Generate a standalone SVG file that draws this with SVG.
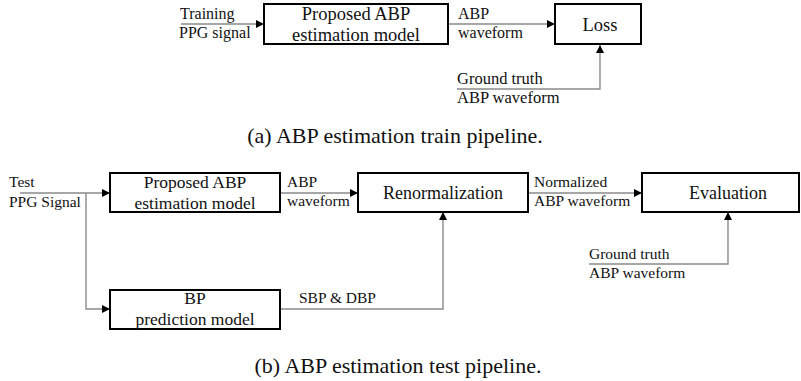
<svg xmlns="http://www.w3.org/2000/svg" width="801" height="381" viewBox="0 0 801 381">
<style>
.box{fill:#fff;stroke:#000;stroke-width:2}
.t{font-family:"Liberation Serif","Times New Roman",serif;fill:#111}
.c{fill:none;stroke:#8a8a8a;stroke-width:1.4}
</style>
<defs>
<marker id="ah" markerUnits="userSpaceOnUse" markerWidth="10" markerHeight="10" refX="8" refY="4" orient="auto">
<path d="M0,0 L8,4 L0,8 Z" fill="#000"/>
</marker>
</defs>
<rect width="801" height="381" fill="#fff"/>
<g id="connectors">
<line class="c" x1="181" y1="24" x2="264" y2="24" marker-end="url(#ah)"/>
<line class="c" x1="448" y1="24" x2="555" y2="24" marker-end="url(#ah)"/>
<polyline class="c" points="457,89 600,89 600,45" marker-end="url(#ah)"/>
<line class="c" x1="20" y1="193" x2="110" y2="193" marker-end="url(#ah)"/>
<polyline class="c" points="86,193 86,309 110,309" marker-end="url(#ah)"/>
<line class="c" x1="280" y1="193" x2="358" y2="193" marker-end="url(#ah)"/>
<line class="c" x1="528" y1="193" x2="642" y2="193" marker-end="url(#ah)"/>
<polyline class="c" points="280,309 443,309 443,212" marker-end="url(#ah)"/>
<polyline class="c" points="589,264 728,264 728,212" marker-end="url(#ah)"/>
</g>
<g id="labels" class="t">
<text x="180" y="19" font-size="16">Training</text>
<text x="179" y="38" font-size="16">PPG signal</text>
<text x="458" y="19" font-size="16">ABP</text>
<text x="458" y="38" font-size="16">waveform</text>
<text x="457" y="84" font-size="16.5">Ground truth</text>
<text x="457" y="103" font-size="16.5">ABP waveform</text>
<text x="9" y="187" font-size="15.5">Test</text>
<text x="9" y="207" font-size="15.5">PPG Signal</text>
<text x="287" y="187" font-size="15.5">ABP</text>
<text x="287" y="206" font-size="15.5">waveform</text>
<text x="534" y="187" font-size="15.5">Normalized</text>
<text x="534" y="206" font-size="15.5">ABP waveform</text>
<text x="589" y="259" font-size="15.5">Ground truth</text>
<text x="589" y="278" font-size="15.5">ABP waveform</text>
<text x="299" y="303" font-size="15.5">SBP &amp; DBP</text>
</g>
<g id="train-model">
<rect class="box" x="264" y="4" width="184" height="40"/>
<text class="t" x="356" y="20" font-size="18.5" text-anchor="middle">Proposed ABP</text>
<text class="t" x="356" y="41" font-size="18.5" text-anchor="middle">estimation model</text>
</g>
<g id="loss">
<rect class="box" x="555" y="4" width="86" height="40"/>
<text class="t" x="600" y="31" font-size="18.5" text-anchor="middle">Loss</text>
</g>
<text class="t" x="395" y="143" font-size="22" text-anchor="middle">(a) ABP estimation train pipeline.</text>
<g id="test-model">
<rect class="box" x="110" y="173" width="170" height="39"/>
<text class="t" x="195" y="188" font-size="17.5" text-anchor="middle">Proposed ABP</text>
<text class="t" x="195" y="209" font-size="17.5" text-anchor="middle">estimation model</text>
</g>
<g id="renormalization">
<rect class="box" x="358" y="173" width="170" height="39"/>
<text class="t" x="443" y="199" font-size="18" text-anchor="middle">Renormalization</text>
</g>
<g id="evaluation">
<rect class="box" x="642" y="173" width="157" height="39"/>
<text class="t" x="728" y="199" font-size="18" text-anchor="middle">Evaluation</text>
</g>
<g id="bp-model">
<rect class="box" x="110" y="290" width="170" height="39"/>
<text class="t" x="195" y="304" font-size="17.5" text-anchor="middle">BP</text>
<text class="t" x="195" y="325" font-size="17.5" text-anchor="middle">prediction model</text>
</g>
<text class="t" x="398" y="373" font-size="22" text-anchor="middle">(b) ABP estimation test pipeline.</text>
</svg>
